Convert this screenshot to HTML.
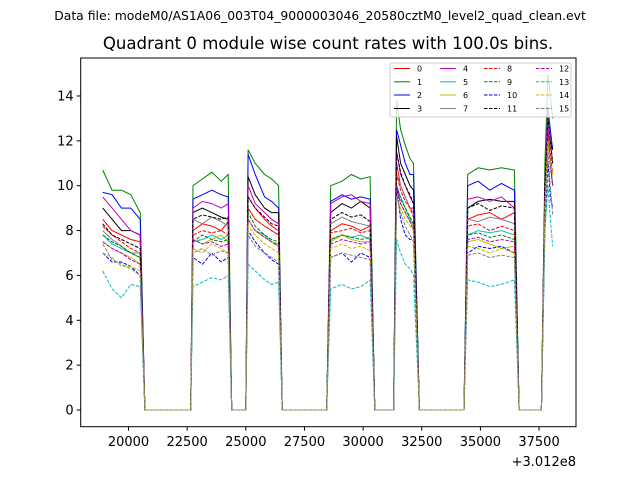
<!DOCTYPE html>
<html><head><meta charset="utf-8"><style>
body{margin:0;background:#fff}
svg{display:block;font-family:"DejaVu Sans","Liberation Sans",sans-serif}
</style></head><body>
<svg id="chart" width="640" height="480" viewBox="0 0 640 480">
<text x="320" y="20" text-anchor="middle" font-size="12.4">Data file: modeM0/AS1A06_003T04_9000003046_20580cztM0_level2_quad_clean.evt</text>
<text x="328" y="49" text-anchor="middle" font-size="16.6">Quadrant 0 module wise count rates with 100.0s bins.</text>
<g id="plot"></g>
<g id="axes"></g>
<rect x="80.7" y="58" width="495.3" height="368.7" fill="none" stroke="#000" stroke-width="1"/>
<text x="576" y="466" text-anchor="end" font-size="13">+3.012e8</text>
<g id="legend"></g>
</svg>
<script>
const segTimes=[[18900,19300,19700,20100,20500],[22750,23150,23550,23950,24250],[25100,25400,25800,26100,26400],[28620,29100,29500,29900,30300],[31430,31600,31800,32000,32150],[34460,34900,35400,35900,36450],[37750,37880,37980,38080]];
const zeroBefore=[null,[20700,22650],[24400,25000],[26550,28450],[30500,31300],[32400,34300],[36650,37600]];
const seriesNames=["0","1","2","3","4","5","6","7","8","9","10","11","12","13","14","15"];
const colors=["#ff0000","#008000","#0000ff","#000000","#bf00bf","#00bfbf","#bfbf00","#808080","#ff0000","#008000","#0000ff","#000000","#bf00bf","#00bfbf","#bfbf00","#808080"];
const s0=[[8.5,8.0,7.8,7.6,7.5],[8.0,8.3,8.2,8.0,8.4],[9.5,9.0,8.5,8.2,8.0],[8.0,8.3,8.2,8.0,8.2],[11.0,10.0,9.5,9.0,9.0],[8.5,8.7,8.8,8.5,8.8],[10,12.5,11,10.5]];
const s1=[[10.7,9.8,9.8,9.6,8.8],[10.0,10.3,10.6,10.2,10.5],[11.6,11.0,10.5,10.3,10.0],[10.0,10.2,10.5,10.3,10.4],[13.8,12.5,11.8,11.2,11.0],[10.5,10.8,10.7,10.8,10.7],[11,15,14,13]];
const s2=[[9.7,9.6,9.0,9.0,8.5],[9.4,9.6,9.8,9.6,9.5],[11.4,10.5,9.5,9.3,9.0],[9.3,9.6,9.4,9.5,9.4],[12.5,11.8,11,10.5,10.5],[10.0,10.2,9.8,10.1,9.8],[10,13.5,12.5,11.6]];
const s3=[[9.0,8.5,8.0,8.0,7.8],[8.8,9.0,8.8,8.6,8.5],[10.4,9.6,9.0,8.8,8.8],[8.8,9.2,9.0,9.3,9.0],[12.2,11.0,10.5,10.0,9.8],[9.0,9.3,9.4,9.3,9.3],[10,13,12,11.6]];
const s4=[[9.5,9.0,8.5,8.0,7.8],[9.0,9.3,9.2,9.0,9.2],[10.0,9.2,8.8,8.5,8.3],[9.2,9.5,9.6,9.3,9.2],[11.5,10.5,10,9.5,9.2],[9.4,9.5,9.3,9.5,9.0],[10,13.5,12,11]];
const s5=[[7.8,7.4,7.2,7.0,6.8],[7.5,7.6,7.8,7.6,7.8],[8.5,8.0,7.8,7.5,7.4],[7.6,7.8,7.7,7.8,7.6],[10.0,9.5,9.0,8.5,8.2],[7.8,8.0,7.9,8.0,7.8],[9,12,11,10]];
const s6=[[7.5,7.2,7.0,6.8,6.5],[7.6,7.4,7.6,7.8,7.5],[8.5,8.0,7.7,7.5,7.3],[7.5,7.8,7.6,7.5,7.5],[9.8,9.2,8.8,8.4,8.2],[7.5,7.6,7.4,7.2,7.3],[9,12,11,10]];
const s7=[[8.0,7.6,7.3,7.0,7.0],[8.5,8.3,8.6,8.4,8.2],[9.0,8.5,8.2,8.0,7.8],[8.3,8.6,8.4,8.3,8.2],[10.5,10,9.5,9.0,8.8],[8.5,8.4,8.6,8.5,8.3],[9.5,13,12,11]];
const s8=[[8.2,7.8,7.5,7.2,7.0],[7.8,8.0,7.9,8.0,7.8],[9.0,8.5,8.2,8.0,7.8],[7.9,8.0,8.1,7.9,8.0],[10.5,9.8,9.3,9.0,8.6],[8.2,8.3,8.0,8.2,8.0],[9.5,12.5,11.5,10.5]];
const s9=[[7.8,7.5,7.3,7.0,6.8],[7.5,7.8,7.6,7.5,7.6],[8.8,8.2,7.8,7.6,7.5],[7.6,7.8,7.7,7.6,7.7],[10,9.4,9.0,8.6,8.3],[7.8,7.9,7.7,7.8,7.6],[9,12,11,10]];
const s10=[[7.0,6.6,6.6,6.4,6.0],[6.8,6.5,7.0,6.6,6.8],[8.0,7.5,7.0,6.7,6.5],[6.8,7.0,6.6,7.0,6.8],[10,8.5,7.8,7.6,7.6],[7.0,7.3,7.2,7.3,7.0],[8,11,9.5,9.0]];
const s11=[[8.3,7.8,7.6,7.4,7.2],[8.5,8.7,8.6,8.5,8.6],[9.5,9.0,8.6,8.3,8.2],[8.5,8.8,8.6,8.7,8.4],[11.5,10.6,10,9.6,9.2],[9.0,9.2,8.9,9.1,9.0],[10,13,12,11]];
const s12=[[7.5,7.2,7.0,6.7,6.5],[7.6,7.4,7.5,7.3,7.4],[8.5,8.0,7.7,7.5,7.3],[7.4,7.6,7.5,7.4,7.5],[10,9.2,8.8,8.4,8.0],[7.6,7.7,7.5,7.6,7.5],[9,12.5,11,10]];
const s13=[[6.2,5.4,5.0,5.6,5.5],[5.5,5.7,5.9,5.8,6.0],[6.5,6.2,5.8,5.6,5.7],[5.4,5.6,5.4,5.5,5.8],[7.6,7.0,6.5,6.3,6.0],[5.8,5.7,5.5,5.6,5.8],[8,10,8.5,7.3]];
const s14=[[7.0,6.8,6.4,6.4,6.2],[7.2,7.0,7.4,7.2,7.0],[8.2,7.8,7.4,7.2,7.0],[7.2,7.4,7.2,7.3,7.1],[9.5,9,8.5,8.2,8.0],[7.3,7.2,7.0,7.2,7.0],[9,12,11,10.5]];
const s15=[[7.4,6.7,6.5,6.3,6.0],[7.0,7.2,6.9,7.1,7.0],[7.8,7.3,7.0,6.8,6.6],[6.8,7.0,6.9,6.8,6.7],[9.5,8.8,8.2,7.8,7.5],[6.9,7.0,6.8,6.9,6.8],[8.5,11.5,10,8.7]];
const allSeries=[s0,s1,s2,s3,s4,s5,s6,s7,s8,s9,s10,s11,s12,s13,s14,s15];
const xTicks=[20000,22500,25000,27500,30000,32500,35000,37500];
const yTicks=[0,2,4,6,8,10,12,14];

const NS="http://www.w3.org/2000/svg";
const X0=80.7,X1=576,Y0=58,Y1=426.7;
function xs(t){return 128.5+(t-20000)*0.02346;}
function ys(v){return 410-v*22.43;}
const plot=document.getElementById('plot');
allSeries.forEach((s,i)=>{
  const pts=[];
  s.forEach((seg,k)=>{
    if(zeroBefore[k]){zeroBefore[k].forEach(t=>pts.push([t,0]));}
    seg.forEach((v,j)=>pts.push([segTimes[k][j],v]));
  });
  const p=document.createElementNS(NS,'polyline');
  p.setAttribute('points',pts.map(q=>xs(q[0]).toFixed(1)+','+ys(q[1]).toFixed(1)).join(' '));
  p.setAttribute('fill','none');
  p.setAttribute('stroke',colors[i]);
  p.setAttribute('stroke-width','1');
  if(i>=8)p.setAttribute('stroke-dasharray','3.5,1.5');
  
  
  plot.appendChild(p);
});
const axes=document.getElementById('axes');
xTicks.forEach(t=>{
  const x=xs(t);
  const l=document.createElementNS(NS,'line');
  l.setAttribute('x1',x);l.setAttribute('x2',x);l.setAttribute('y1',Y1);l.setAttribute('y2',Y1+4);
  l.setAttribute('stroke','#000');
  
  
  axes.appendChild(l);
  const tx=document.createElementNS(NS,'text');
  tx.setAttribute('x',x);tx.setAttribute('y',446);tx.setAttribute('text-anchor','middle');tx.setAttribute('font-size','13');
  tx.textContent=t;
  
  
  axes.appendChild(tx);
});
yTicks.forEach(v=>{
  const y=ys(v);
  const l=document.createElementNS(NS,'line');
  l.setAttribute('x1',X0-4);l.setAttribute('x2',X0);l.setAttribute('y1',y);l.setAttribute('y2',y);
  l.setAttribute('stroke','#000');
  
  
  axes.appendChild(l);
  const tx=document.createElementNS(NS,'text');
  tx.setAttribute('x',X0-7);tx.setAttribute('y',y+4.5);tx.setAttribute('text-anchor','end');tx.setAttribute('font-size','13');
  tx.textContent=v;
  
  
  axes.appendChild(tx);
});
const lg=document.getElementById('legend');
const box=document.createElementNS(NS,'rect');
box.setAttribute('x',390);box.setAttribute('y',63);box.setAttribute('width',181);box.setAttribute('height',54);
box.setAttribute('fill','#fff');box.setAttribute('fill-opacity','0.8');box.setAttribute('stroke','#ccc');box.setAttribute('rx','2');


lg.appendChild(box);
const colX=[394,440,484,536];
const rowY=[68.5,81.8,95,108.5];
seriesNames.forEach((n,i)=>{
  const c=Math.floor(i/4),r=i%4;
  const g=document.createElementNS(NS,'g');
  
  
  const l=document.createElementNS(NS,'line');
  l.setAttribute('x1',colX[c]);l.setAttribute('x2',colX[c]+16);l.setAttribute('y1',rowY[r]);l.setAttribute('y2',rowY[r]);
  l.setAttribute('stroke',colors[i]);
  if(i>=8)l.setAttribute('stroke-dasharray','3.5,1.5');
  g.appendChild(l);
  const tx=document.createElementNS(NS,'text');
  tx.setAttribute('x',colX[c]+23);tx.setAttribute('y',rowY[r]+3);tx.setAttribute('font-size','8');
  tx.textContent=n;
  g.appendChild(tx);
  lg.appendChild(g);
});
</script>
</body></html>
